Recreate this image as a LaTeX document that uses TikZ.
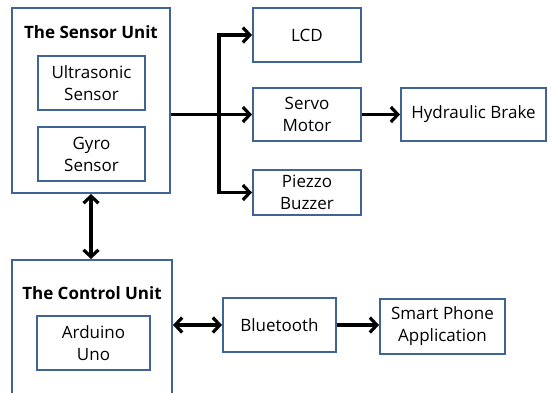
\documentclass[tikz,border=0pt]{standalone}
\usepackage{fontspec}
\setmainfont{Open Sans}
\usetikzlibrary{arrows.meta}
\definecolor{boxblue}{RGB}{65,100,150}
\tikzset{
  x=1pt, y=-1pt,
  blk/.style={draw=boxblue, line width=2pt, fill=white, rectangle, inner sep=0pt, align=center, font=\fontsize{17}{22}\selectfont},
  ttl/.style={font=\fontsize{17}{20}\bfseries\selectfont, inner sep=0pt},
  arr/.style={line width=3.4pt, -{Straight Barb[length=7pt,width=15pt,line width=3.2pt]}},
  darr/.style={line width=3.4pt, {Straight Barb[length=7pt,width=15pt,line width=3.2pt]}-{Straight Barb[length=7pt,width=15pt,line width=3.2pt]}},
}
\begin{document}
\begin{tikzpicture}
\useasboundingbox (0,0) rectangle (548,392);
\clip (0,0) rectangle (548,392);
\fill[white] (0,0) rectangle (548,392);
% sensor unit
\node[blk, minimum width=158pt, minimum height=185pt] (sensor) at (91,100.5) {};
\node[ttl] (stitle) at (91,32) {The Sensor Unit};
\node[blk, minimum width=107pt, minimum height=54pt] (ultra) at (91.5,83) {Ultrasonic\\Sensor};
\node[blk, minimum width=107pt, minimum height=54pt] (gyro) at (91.5,154) {Gyro\\Sensor};
% outputs
\node[blk, minimum width=108pt, minimum height=54pt] (lcd) at (307,35) {LCD};
\node[blk, minimum width=108pt, minimum height=53pt] (servo) at (307,114.5) {Servo\\Motor};
\node[blk, minimum width=108pt, minimum height=45pt] (piezo) at (307,192.5) {Piezzo\\Buzzer};
\node[blk, minimum width=145pt, minimum height=53pt] (brake) at (473.5,114.5) {Hydraulic Brake};
% control unit
\node[blk, minimum width=160pt, minimum height=140pt] (control) at (92,330) {};
\node[ttl] (ctitle) at (92,293) {The Control Unit};
\node[blk, minimum width=113pt, minimum height=54pt] (arduino) at (93.5,343) {Arduino\\Uno};
\node[blk, minimum width=113pt, minimum height=54pt] (bt) at (279.5,325) {Bluetooth};
\node[blk, minimum width=125pt, minimum height=55pt] (phone) at (442.5,326.5) {Smart Phone\\Application};
% connectors
\coordinate (j) at (219,114.5);
\draw[arr] (sensor.east |- servo) -- (servo.west);
\draw[arr] (j) |- (lcd.west);
\draw[arr] (j) |- (piezo.west);
\draw[arr] (servo.east) -- (brake.west);
\draw[darr] (sensor.south) -- (sensor.south |- control.north);
\draw[darr] (control.east |- bt) -- (bt.west);
\draw[arr] (bt.east) -- (bt.east -| phone.west);
\end{tikzpicture}
\end{document}
